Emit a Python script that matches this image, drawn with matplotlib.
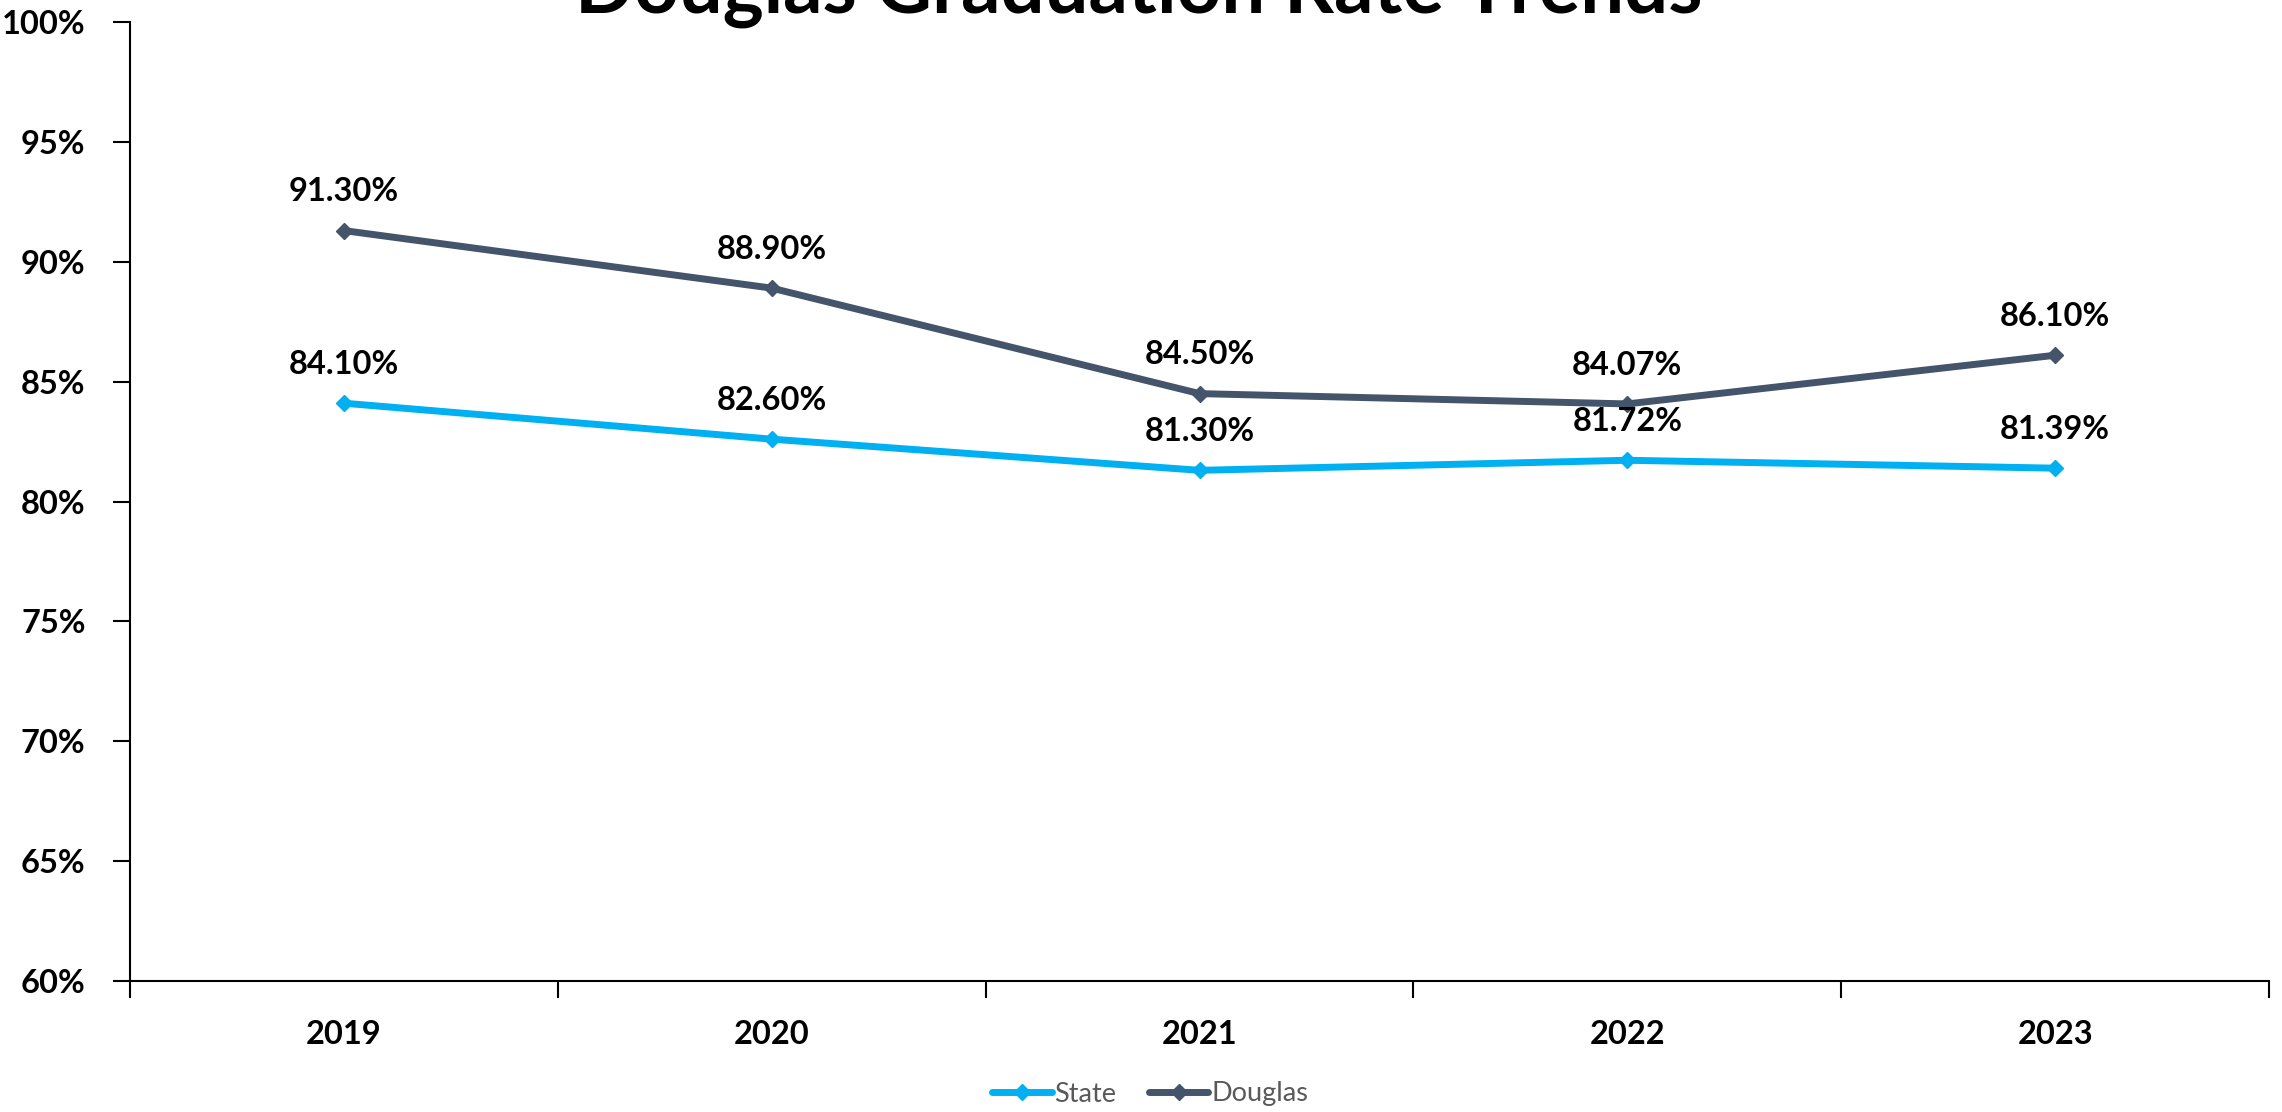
import matplotlib
matplotlib.use("Agg")
import matplotlib.pyplot as plt
from matplotlib.ticker import FixedLocator, PercentFormatter
from matplotlib.lines import Line2D

years = ["2019", "2020", "2021", "2022", "2023"]
state = [84.10, 82.60, 81.30, 81.72, 81.39]
douglas = [91.30, 88.90, 84.50, 84.07, 86.10]
y_ticks = [60, 65, 70, 75, 80, 85, 90, 95, 100]
title = "Douglas Graduation Rate Trends"

plt.rcParams['font.family'] = ['Lato', 'DejaVu Sans']

STATE_C = "#00B0F0"
DOUG_C = "#44546A"

fig = plt.figure(figsize=(22.82, 11.12), dpi=100)
ax = fig.add_axes([130/2282, 1-981/1112, (2269-130)/2282, (981-22)/1112])

x = list(range(len(years)))
ax.plot(x, state, color=STATE_C, lw=5, marker='D', ms=8.5, label="State", solid_capstyle='round')
ax.plot(x, douglas, color=DOUG_C, lw=5, marker='D', ms=8.5, label="Douglas", solid_capstyle='round')

for xi, v in zip(x, state):
    ax.annotate(f"{v:.2f}%", (xi, v), xytext=(0, 28), textcoords='offset points',
                ha='center', va='center', fontsize=23.5, fontweight='bold', color='black')
for xi, v in zip(x, douglas):
    ax.annotate(f"{v:.2f}%", (xi, v), xytext=(0, 28), textcoords='offset points',
                ha='center', va='center', fontsize=23.5, fontweight='bold', color='black')

ax.set_xlim(-0.5, len(years) - 0.5)
ax.set_ylim(60, 100)
ax.yaxis.set_major_locator(FixedLocator(y_ticks))
ax.yaxis.set_major_formatter(PercentFormatter(decimals=0))
ax.set_xticks(x)
ax.set_xticklabels(years)
ax.set_xticks([i - 0.5 for i in range(len(years) + 1)], minor=True)

ax.tick_params(axis='x', which='major', length=0, pad=28, labelsize=23.5)
ax.tick_params(axis='x', which='minor', length=12, width=1.5, direction='out')
ax.tick_params(axis='y', which='major', length=12, width=1.5, direction='out', pad=20, labelsize=23.5)
for lab in ax.get_xticklabels() + ax.get_yticklabels():
    lab.set_fontweight('bold')

for s in ['top', 'right']:
    ax.spines[s].set_visible(False)
for s in ['left', 'bottom']:
    ax.spines[s].set_linewidth(1.5)

fig.text(0.499, 1 - 13/1112, title, ha='center', va='baseline', fontsize=56, fontweight='bold')

handles = [Line2D([], [], color=STATE_C, lw=5, marker='D', ms=8.5, solid_capstyle='round'),
           Line2D([], [], color=DOUG_C, lw=5, marker='D', ms=8.5, solid_capstyle='round')]
leg = fig.legend(handles, ["State", "Douglas"], loc='center', bbox_to_anchor=(1150/2282, 1 - 1094/1112),
                 ncol=2, frameon=False, fontsize=19.5, handlelength=2.2, handletextpad=0.1, columnspacing=1.2)
for t in leg.get_texts():
    t.set_color('#595959')

fig.savefig("out.png", dpi=100)
